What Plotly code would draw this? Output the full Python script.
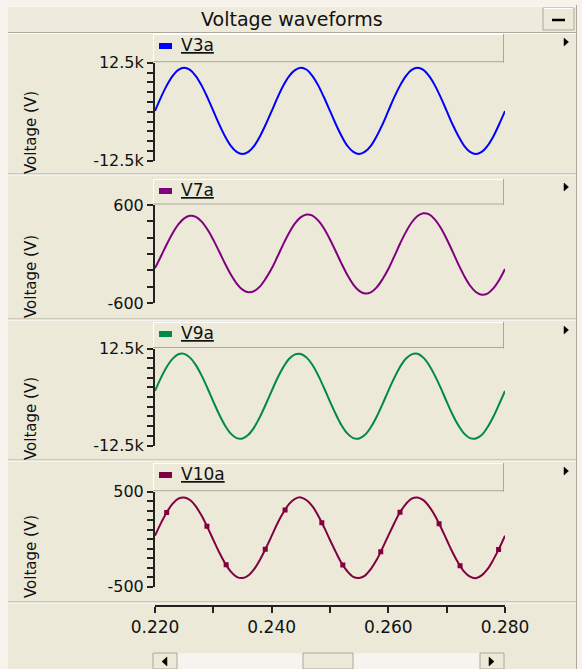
import numpy as np
import plotly.graph_objects as go

# ---------------- data ----------------
T_MS = [220, 221, 222, 223, 224, 225, 226, 227, 228, 229,
        230, 231, 232, 233, 234, 235, 236, 237, 238, 239,
        240, 241, 242, 243, 244, 245, 246, 247, 248, 249,
        250, 251, 252, 253, 254, 255, 256, 257, 258, 259,
        260, 261, 262, 263, 264, 265, 266, 267, 268, 269,
        270, 271, 272, 273, 274, 275, 276, 277, 278, 279, 280]

V3A = [200, 3600, 6650, 9100, 10650, 11200, 10650, 9100, 6650, 3600,
       200, -3200, -6250, -8700, -10250, -10800, -10250, -8700, -6250, -3200,
       150, 3600, 6700, 9100, 10600, 11200, 10700, 9100, 6650, 3550,
       200, -3200, -6250, -8750, -10250, -10800, -10200, -8700, -6250, -3250,
       200, 3650, 6650, 9100, 10650, 11200, 10650, 9050, 6650, 3600,
       200, -3200, -6200, -8700, -10250, -10800, -10250, -8700, -6300, -3200, 150]

V7A = [-173, -30, 117, 252, 362, 437, 469, 455, 397, 299,
       173, 30, -117, -252, -362, -437, -469, -455, -397, -299,
       -178, -31, 121, 260, 374, 451, 484, 470, 409, 309,
       178, 31, -121, -260, -374, -451, -484, -470, -409, -309,
       -184, -32, 125, 268, 386, 465, 499, 485, 422, 319,
       184, 32, -125, -268, -386, -465, -499, -485, -422, -319, -184]

V9A = [1580, 4880, 7730, 9840, 11010, 11110, 10150, 8220, 5500, 2260,
       -1180, -4480, -7330, -9440, -10610, -10710, -9750, -7820, -5100, -1860,
       1550, 4900, 7700, 9850, 11000, 11100, 10150, 8250, 5500, 2250,
       -1200, -4450, -7350, -9450, -10600, -10700, -9750, -7800, -5100, -1850,
       1600, 4850, 7750, 9850, 11000, 11150, 10150, 8200, 5450, 2300,
       -1200, -4500, -7300, -9450, -10600, -10700, -9800, -7800, -5100, -1850, 1550]

V10A = [37, 167, 282, 371, 426, 439, 412, 345, 246, 125,
        -7, -137, -252, -341, -396, -409, -382, -315, -216, -95,
        35, 168, 280, 372, 425, 440, 410, 346, 245, 124,
        -8, -136, -253, -340, -397, -408, -383, -314, -217, -94,
        38, 166, 283, 370, 427, 439, 411, 344, 247, 126,
        -6, -138, -251, -342, -395, -410, -381, -316, -215, -96, 37]

V10A_MARK_MS = [222.0, 228.9, 232.2, 238.9, 242.3, 248.6,
                252.2, 258.7, 262.0, 268.7, 272.3, 278.9]

SERIES = ["V3a", "V7a", "V9a", "V10a"]
COLORS = ["#0000FF", "#800080", "#008A45", "#800040"]
Y_RANGES = [[-12500, 12500], [-600, 600], [-12500, 12500], [-500, 500]]
Y_TICKVALS = [
    [-12500, -10000, -7500, -5000, -2500, 0, 2500, 5000, 7500, 10000, 12500],
    [-600, -400, -200, 0, 200, 400, 600],
    [-12500, -10000, -7500, -5000, -2500, 0, 2500, 5000, 7500, 10000, 12500],
    [-500, -400, -300, -200, -100, 0, 100, 200, 300, 400, 500],
]
Y_TICKTEXT = [
    ["-12.5k", "", "", "", "", "", "", "", "", "", "12.5k"],
    ["-600", "", "", "", "", "", "600"],
    ["-12.5k", "", "", "", "", "", "", "", "", "", "12.5k"],
    ["-500", "", "", "", "", "", "", "", "", "", "500"],
]
X_TICKVALS = [0.220, 0.230, 0.240, 0.250, 0.260, 0.270, 0.280]
X_TICKTEXT = ["0.220", "", "0.240", "", "0.260", "", "0.280"]
TITLE = "Voltage waveforms"
Y_TITLE = "Voltage (V)"

# ---------------- layout geometry (pixels) ----------------
W, H = 582, 669
def X(px): return px / W
def Y(py): return 1 - py / H

PLOT_X = (155, 505)
PLOT_Y = [(62.7, 160.7), (205, 303), (348.5, 445.5), (491.7, 586.7)]
HEADERS = [(34, 62.7), (179, 205), (322, 348.5), (463, 491.7)]
YTITLE_C = [133, 277, 419, 557]
SEPS = [174, 319, 460, 602]

BEIGE = "#ECE9D8"
DARK = "#ACA899"
FONT = "DejaVu Sans"

t = np.array(T_MS) / 1000.0
data = [V3A, V7A, V9A, V10A]

fig = go.Figure()
for i, (name, col, vals) in enumerate(zip(SERIES, COLORS, data)):
    sfx = "" if i == 0 else str(i + 1)
    fig.add_trace(go.Scatter(x=t, y=vals, mode="lines", name=name,
                             line=dict(color=col, width=2, shape="spline", smoothing=1.0),
                             xaxis="x" + sfx, yaxis="y" + sfx, showlegend=False,
                             hoverinfo="skip"))

mt = np.array(V10A_MARK_MS) / 1000.0
fig.add_trace(go.Scatter(x=mt, y=np.interp(mt, t, V10A), mode="markers",
                         marker=dict(symbol="square", size=5, color=COLORS[3]),
                         xaxis="x4", yaxis="y4", showlegend=False, hoverinfo="skip"))

layout = dict(width=W, height=H, autosize=False, showlegend=False,
              margin=dict(l=0, r=0, t=0, b=0, pad=0, autoexpand=False),
              paper_bgcolor="#F8F1EC", plot_bgcolor="white",
              font=dict(family=FONT, color="black"))

for i in range(4):
    sfx = "" if i == 0 else str(i + 1)
    y0, y1 = PLOT_Y[i]
    xa = dict(domain=[X(PLOT_X[0]), X(PLOT_X[1])], range=[0.22, 0.28],
              showgrid=False, zeroline=False, fixedrange=True, automargin=False)
    if i < 3:
        xa.update(visible=False, anchor="y" + sfx)
    else:
        xa.update(visible=True, anchor="free", position=Y(606), side="bottom",
                  showline=True, linecolor="#222", linewidth=2,
                  ticks="outside", ticklen=6, tickwidth=1.5, tickcolor="#222",
                  tickvals=X_TICKVALS, ticktext=X_TICKTEXT,
                  tickfont=dict(size=17, family=FONT, color="#111"))
    layout["xaxis" + sfx] = xa
    layout["yaxis" + sfx] = dict(domain=[Y(y1), Y(y0)], range=Y_RANGES[i],
                                 anchor="x" + sfx, showgrid=False, zeroline=False,
                                 showline=True, linecolor="#222", linewidth=2,
                                 ticks="outside", ticklen=6, tickwidth=1.5, tickcolor="#222",
                                 tickvals=Y_TICKVALS[i], ticktext=Y_TICKTEXT[i],
                                 tickfont=dict(size=16, family=FONT, color="#111"),
                                 fixedrange=True, automargin=False)
fig.update_layout(**layout)

shapes = []
def rect(x0, y0, x1, y1, fill, line=None, lw=1, layer="below"):
    shapes.append(dict(type="rect", xref="paper", yref="paper",
                       x0=X(x0), x1=X(x1), y0=Y(y1), y1=Y(y0),
                       fillcolor=fill, layer=layer,
                       line=dict(color=line or fill, width=lw if line else 0)))
def hline(x0, x1, y, color, w=1, layer="below"):
    shapes.append(dict(type="line", xref="paper", yref="paper",
                       x0=X(x0), x1=X(x1), y0=Y(y), y1=Y(y),
                       line=dict(color=color, width=w), layer=layer))
def vline(x, y0, y1, color, w=1, layer="below"):
    shapes.append(dict(type="line", xref="paper", yref="paper",
                       x0=X(x), x1=X(x), y0=Y(y0), y1=Y(y1),
                       line=dict(color=color, width=w), layer=layer))
def tri(pts, color):
    path = "M " + " L ".join(f"{X(a)},{Y(b)}" for a, b in pts) + " Z"
    shapes.append(dict(type="path", xref="paper", yref="paper", path=path,
                       fillcolor=color, line=dict(color=color, width=0.5), layer="above"))

# window body
rect(8, 5, 576, 669, BEIGE)
vline(576.5, 5, 669, DARK)
# title bar
rect(8, 6, 576, 32, "#EEEBDD")
hline(8, 576, 6, "white")
hline(8, 576, 32.5, DARK)
hline(8, 576, 33.5, "white")
# minimize button
rect(543, 8, 574, 30, BEIGE, line=DARK)
hline(544, 573, 8.5, "white")
hline(552, 565, 20, "black", 2.5, layer="above")
# panel separators
for s in SEPS:
    hline(8, 576, s, DARK)
    hline(8, 576, s + 1, "white")
# headers
for (h0, h1) in HEADERS:
    rect(153, h0, 504, h1, BEIGE)
    hline(153, 504, h0 + 0.5, "white")
    vline(153.5, h0, h1, "white")
    vline(503.5, h0, h1, DARK)
    hline(153, 504, h1 - 1, DARK)
# legend squares
for (h0, h1), col in zip(HEADERS, COLORS):
    rect(159, h0 + 9, 172, h0 + 15, col, layer="above")
# right arrows
for (h0, h1) in HEADERS:
    c = h0 + 8
    tri([(564, c - 4), (568.5, c), (564, c + 4)], "black")
# scrollbar
rect(153, 653, 504, 669, "#F5F4EF")
rect(153, 653, 177, 669, BEIGE, line=DARK)
rect(480, 653, 504, 669, BEIGE, line=DARK)
rect(303, 653, 353, 669, BEIGE, line=DARK)
tri([(167, 657), (162, 661.5), (167, 666)], "black")
tri([(489, 657), (494, 661.5), (489, 666)], "black")

annotations = [dict(text=TITLE, xref="paper", yref="paper", x=X(292), y=Y(19.5),
                    showarrow=False, font=dict(size=19, family=FONT, color="#111"),
                    xanchor="center", yanchor="middle")]
for (h0, h1), name in zip(HEADERS, SERIES):
    annotations.append(dict(text="<u>" + name + "</u>", xref="paper", yref="paper",
                            x=X(179), y=Y(h0 + 11), showarrow=False,
                            font=dict(size=17, family=FONT, color="#111"),
                            xanchor="left", yanchor="middle"))
for c in YTITLE_C:
    annotations.append(dict(text=Y_TITLE, xref="paper", yref="paper",
                            x=X(31), y=Y(c), showarrow=False, textangle=-90,
                            font=dict(size=15, family=FONT, color="#111"),
                            xanchor="center", yanchor="middle"))

fig.update_layout(shapes=shapes, annotations=annotations)
fig.write_html("out.html")
